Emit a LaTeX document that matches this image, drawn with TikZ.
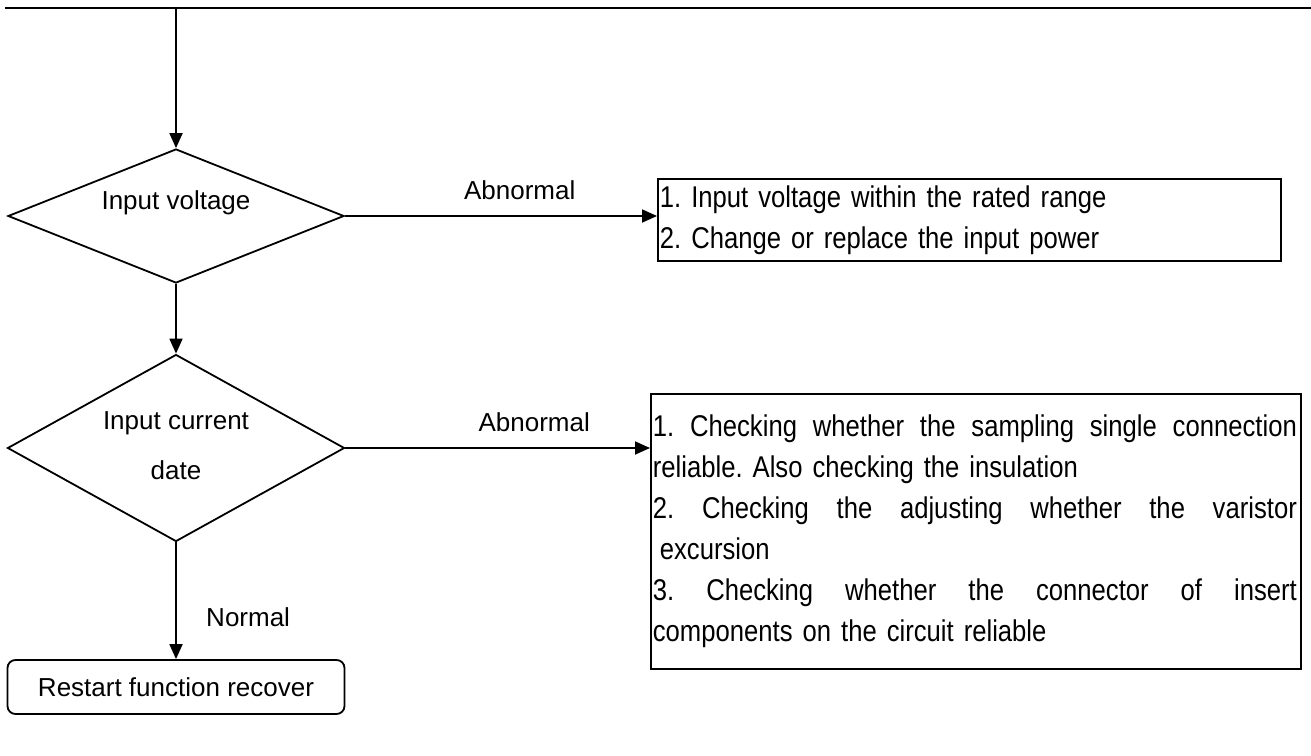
\documentclass[tikz,border=0pt]{standalone}
\usepackage{fontspec}
\setmainfont{Liberation Sans}
\newfontfamily\boxfont[FakeStretch=0.855]{Liberation Sans}
\usetikzlibrary{shapes.geometric,arrows.meta}

\newcommand{\fullline}[1]{\makebox[644pt][s]{\spaceskip=0.3em plus 1fil\xspaceskip=0.3em plus 1fil\relax #1}}

\begin{document}
\frenchspacing
\begin{tikzpicture}[x=1pt,y=-1pt,line width=1.8pt,
        every node/.style={font=\fontsize{26}{31}\selectfont},
        flow/.style={-{Triangle[length=15pt,width=13pt]}},
        decision/.style={diamond,draw,inner sep=0pt},
        notebox/.style={draw,rectangle,anchor=north west,inner sep=2pt,align=left,
            font=\boxfont\fontsize{30}{41}\selectfont},
        endbox/.style={draw,rectangle,rounded corners=8pt,minimum width=337pt,minimum height=54pt}]
    \useasboundingbox (0,0) rectangle (1311,755);
    % top rule and entry point
    \coordinate (rule l) at (5,8);
    \coordinate (rule r) at (1311,8);
    \coordinate (entry) at (176,8);
    \draw [line width=2.2pt] (rule l) -- (rule r);
    % decisions
    \node [decision,minimum width=336pt,minimum height=134pt] (volt) at (176,216) {};
    \node (volt txt) at (176,203) {Input voltage};
    \node [decision,minimum width=337pt,minimum height=187pt] (curr) at (176,448) {};
    \node [align=center,font=\fontsize{26}{50}\selectfont] (curr txt) at (176,446) {Input current\\date};
    % remedies
    \node [notebox,minimum width=623pt,minimum height=82pt,text width=619pt] (fix volt) at (657,178)
        {1. Input voltage within the rated range\\2. Change or replace the input power};
    \node [notebox,minimum width=650pt,minimum height=275pt,text width=646pt] (fix curr) at (650,393)
        {\fullline{1. Checking whether the sampling single connection}\\
         reliable. Also checking the insulation\\
         \fullline{2. Checking the adjusting whether the varistor}\\
         \hspace*{7pt}excursion\\
         \fullline{3. Checking whether the connector of insert}\\
         components on the circuit reliable};
    \node [endbox] (restart) at (176,687) {Restart function recover};
    % connectors
    \draw [flow] (entry) -- (volt.north);
    \draw [flow] (volt.east) -- (volt.east -| fix volt.west) node [pos=0.56,yshift=26pt] (ab1) {Abnormal};
    \draw [flow] (volt.south) -- (curr.north);
    \draw [flow] (curr.east) -- (curr.east -| fix curr.west) node [pos=0.62,yshift=26pt] (ab2) {Abnormal};
    \draw [flow] (curr.south) -- (restart.north) node [pos=0.64,anchor=west,xshift=26pt] (norm) {Normal};
\end{tikzpicture}
\end{document}
